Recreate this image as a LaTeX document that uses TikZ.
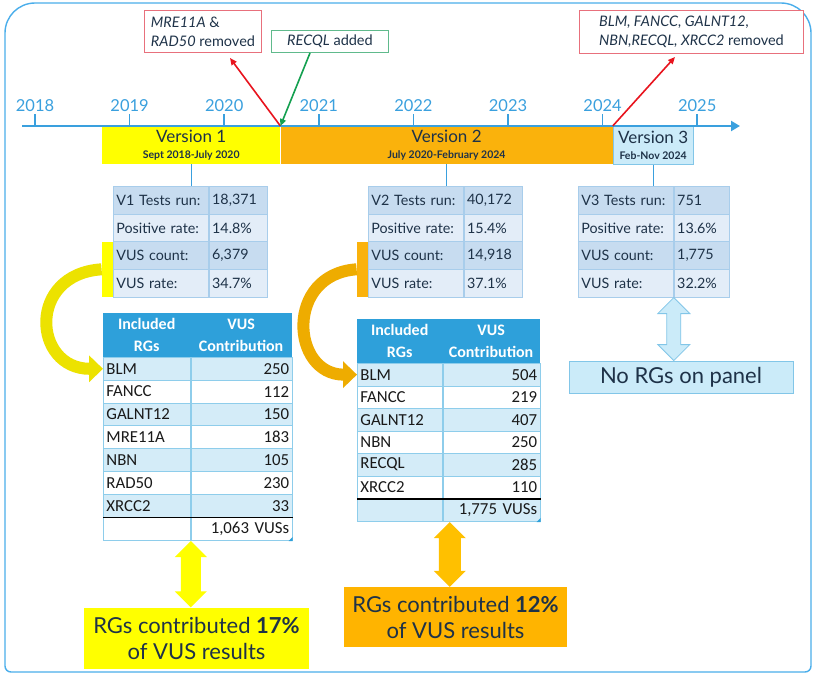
\documentclass[tikz,border=0pt]{standalone}
\usepackage{fontspec}
\setmainfont{Lato}
\newfontfamily\calibri{Carlito}
\usetikzlibrary{arrows.meta,positioning,calc}
\definecolor{tlblue}{RGB}{58,160,222}
\definecolor{inkdark}{RGB}{30,50,72}
\definecolor{v1yellow}{RGB}{255,255,0}
\definecolor{v2orange}{RGB}{250,178,12}
\definecolor{v3blue}{RGB}{203,235,249}
\definecolor{v3line}{RGB}{130,198,232}
\definecolor{remred}{RGB}{232,112,124}
\definecolor{arrred}{RGB}{232,20,30}
\definecolor{addgreen}{RGB}{96,186,140}
\definecolor{arrgreen}{RGB}{20,160,80}
\definecolor{statdark}{RGB}{199,220,240}
\definecolor{statlight}{RGB}{227,237,248}
\definecolor{statline}{RGB}{168,205,235}
\definecolor{headblue}{RGB}{46,160,218}
\definecolor{rgblue}{RGB}{212,236,248}
\definecolor{rgline}{RGB}{142,205,235}
\definecolor{framebl}{RGB}{74,174,235}
\definecolor{curvey}{RGB}{236,226,0}
\definecolor{curveo}{RGB}{238,172,0}
\definecolor{resorange}{RGB}{255,180,0}
\definecolor{dblorange}{RGB}{255,192,0}
% block double arrow between two points on one vertical
\newcommand{\dblarrow}[4]{%
  \path[#1] let \p1=(#2), \p2=(#3) in
    (\x1,\y1) -- (\x1+16pt,\y1-16pt) -- (\x1+#4,\y1-16pt) -- (\x1+#4,\y2+16pt)
    -- (\x1+16pt,\y2+16pt) -- (\x1,\y2) -- (\x1-16pt,\y2+16pt) -- (\x1-#4,\y2+16pt)
    -- (\x1-#4,\y1-16pt) -- (\x1-16pt,\y1-16pt) -- cycle;}

\begin{document}
\begin{tikzpicture}[x=1pt, y=-1pt,
  year/.style={font=\fontsize{16.5}{18}\selectfont, text=tlblue},
  tick/.style={draw=tlblue, line width=1.6pt},
  timeline/.style={-{Triangle[width=10pt,length=9pt]}, line width=2.8pt, draw=tlblue},
  verbar/.style={anchor=north west, minimum height=38pt, inner sep=0pt, align=center,
                 text=inkdark, font=\fontsize{17}{17}\selectfont},
  annot/.style={anchor=north west, draw=#1, line width=1pt, fill=white, align=left,
                inner xsep=4pt, inner ysep=3pt, text=inkdark, font=\fontsize{14.5}{19}\selectfont},
  link/.style={-{Triangle[width=6pt,length=7pt]}, line width=1.6pt, draw=#1},
  conn/.style={draw=tlblue, line width=1pt},
  statl/.style={anchor=north west, draw=statline, line width=0.8pt, text width=89pt,
                inner xsep=3pt, inner ysep=0pt, minimum height=27.7pt, align=left,
                text=inkdark, font=\fontsize{14.3}{15}\selectfont},
  statr/.style={statl, text width=#1},
  sidebar/.style={anchor=north east, fill=#1, minimum width=11pt, minimum height=55.4pt, inner sep=0pt},
  rghd/.style={anchor=north west, draw=headblue, fill=headblue, text=white, align=center,
               minimum height=44pt, inner sep=0pt, text width=#1,
               font=\calibri\bfseries\fontsize{16}{22}\selectfont},
  rgl/.style={anchor=north west, draw=rgline, line width=0.8pt, text width=#1, inner xsep=3pt,
              inner ysep=0pt, align=left, text=black!90, font=\calibri\fontsize{16.8}{18}\selectfont},
  rgr/.style={rgl=#1, align=right},
  curvy/.style={-{Triangle[width=26pt,length=14pt]}, line width=12pt, draw=#1},
  res/.style={fill=#1, minimum width=225pt, minimum height=61pt, align=center, inner sep=0pt,
              text=inkdark, font=\fontsize{22}{26}\selectfont}]
\useasboundingbox (0,0) rectangle (814,675);
\fill[white] (0,0) rectangle (814,675);
% frame
\draw[framebl, line width=1.4pt] (811,400) [rounded corners=6pt] -- (811,672) -- (5,672)
  [rounded corners=30pt] -- (5,3) -- (811,3) -- cycle;
% version bars
\node[verbar, fill=v1yellow, minimum width=178pt] (v1) at (102,126)
  {Version 1\\[-1pt]{\fontsize{10.5}{11}\selectfont\bfseries Sept 2018-July 2020}};
\node[verbar, fill=v2orange, minimum width=332pt, right=0pt of v1] (v2)
  {Version 2\\[-1pt]{\fontsize{10.5}{11}\selectfont\bfseries July 2020-February 2024}};
\node[verbar, fill=v3blue, draw=v3line, line width=0.6pt, minimum width=80pt, right=0pt of v2] (v3)
  {Version 3\\[-1pt]{\fontsize{10.5}{11}\selectfont\bfseries Feb-Nov 2024}};
% timeline
\coordinate (tl-start) at (22,126);
\coordinate (tl-end) at (740,126);
\draw[timeline] (tl-start) -- (tl-end);
\foreach \yr [count=\i from 0] in {2018,...,2025}{
  \draw[tick] ({35+94.6*\i},126) -- ++(0,-12);
  \node[year] (y\yr) at ({35+94.6*\i},106) {\yr};
}
% panel changes
\node[annot=remred, minimum width=117pt, minimum height=42pt] (ann1) at (144,10)
  {\textit{MRE11A} \&\\\textit{RAD50} removed};
\node[annot=addgreen, minimum width=117pt, minimum height=22pt] (ann2) at (271,30)
  {\textit{RECQL} added};
\node[annot=remred, minimum width=224pt, minimum height=43pt] (ann3) at (579,10)
  {\textit{BLM, FANCC, GALNT12,}\\\textit{NBN,RECQL, XRCC2} removed};
\draw[link=arrred] (v1.north east) -- ($(ann1.south east)+(-32pt,-5pt)$);
\draw[link=arrgreen] ([xshift=-20pt]ann2.south) -- (v2.north west);
\draw[link=arrred] (v3.north west) -- ($(ann3.south west)+(96pt,-3pt)$);
% stats tables
\foreach \lab/\val/\col [count=\i] in {V1 Tests run:/{18,371}/statdark, Positive rate:/14.8\%/statlight,
    VUS count:/{6,379}/statdark, VUS rate:/34.7\%/statlight}{
  \node[statl, fill=\col] (s1l-\i) at (113,{158.3+27.7*\i}) {\lab};
  \node[statr=52pt, fill=\col, right=0pt of s1l-\i] (s1r-\i) {\val};
}
\foreach \lab/\val/\col [count=\i] in {V2 Tests run:/{40,172}/statdark, Positive rate:/15.4\%/statlight,
    VUS count:/{14,918}/statdark, VUS rate:/37.1\%/statlight}{
  \node[statl, fill=\col] (s2l-\i) at (368,{158.3+27.7*\i}) {\lab};
  \node[statr=52pt, fill=\col, right=0pt of s2l-\i] (s2r-\i) {\val};
}
\foreach \lab/\val/\col [count=\i] in {V3 Tests run:/751/statdark, Positive rate:/13.6\%/statlight,
    VUS count:/{1,775}/statdark, VUS rate:/32.2\%/statlight}{
  \node[statl, fill=\col] (s3l-\i) at (578,{158.3+27.7*\i}) {\lab};
  \node[statr=49pt, fill=\col, right=0pt of s3l-\i] (s3r-\i) {\val};
}
\draw[conn] (v1.south) -- (v1.south |- s1l-1.north);
\draw[conn] (v2.south) -- (v2.south |- s2l-1.north);
\draw[conn] (v3.south) -- (v3.south |- s3l-1.north);
\node[sidebar=v1yellow] (ybar) at (s1l-3.north west) {};
\node[sidebar=v2orange] (obar) at (s2l-3.north west) {};
% RG table, version 1
\node[rghd=87pt] (h1l) at (103,313) {Included\\RGs};
\node[rghd=101pt, right=0pt of h1l] (h1r) {VUS\\Contribution};
\foreach \g/\n/\col [count=\i] in {BLM/250/rgblue, FANCC/112/white, GALNT12/150/rgblue,
    MRE11A/183/white, NBN/105/rgblue, RAD50/230/white, XRCC2/33/rgblue}{
  \node[rgl=81pt, fill=\col, minimum height=22.8pt] (r1l-\i) at (103,{334.2+22.8*\i}) {\g};
  \node[rgr=95pt, fill=\col, minimum height=22.8pt, right=0pt of r1l-\i] (r1r-\i) {\n};
}
\node[rgl=81pt, fill=white, minimum height=22.8pt, below=0pt of r1l-7] (t1l) {};
\node[rgr=95pt, fill=white, minimum height=22.8pt, right=0pt of t1l] (t1r) {1,063 VUSs\hspace{9pt}};
\draw[black, line width=1.5pt] (r1l-7.south west) -- (r1r-7.south east);
\fill[headblue] (t1r.south east) -- ++(-4pt,0) -- ++(4pt,4pt) -- cycle;
% RG table, version 2
\node[rghd=85pt] (h2l) at (357,319) {Included\\RGs};
\node[rghd=97pt, right=0pt of h2l] (h2r) {VUS\\Contribution};
\foreach \g/\n/\col [count=\i] in {BLM/504/rgblue, FANCC/219/white, GALNT12/407/rgblue,
    NBN/250/white, RECQL/285/rgblue, XRCC2/110/white}{
  \node[rgl=79pt, fill=\col, minimum height=22.5pt] (r2l-\i) at (357,{340.5+22.5*\i}) {\g};
  \node[rgr=91pt, fill=\col, minimum height=22.5pt, right=0pt of r2l-\i] (r2r-\i) {\n};
}
\node[rgl=79pt, fill=rgblue, minimum height=22.5pt, below=0pt of r2l-6] (t2l) {};
\node[rgr=91pt, fill=rgblue, minimum height=22.5pt, right=0pt of t2l] (t2r) {1,775 VUSs\hspace{9pt}};
\draw[black, line width=1.5pt] (r2l-6.south west) -- (r2r-6.south east);
\fill[headblue] (t2r.south east) -- ++(-4pt,0) -- ++(4pt,4pt) -- cycle;
% curved arrows from the VUS rows
\draw[curvy=curvey] (ybar.west) .. controls +(-75,5) and +(-70,0) .. (r1l-1.west);
\draw[curvy=curveo] (obar.west) .. controls +(-72,5) and +(-66,0) .. (r2l-1.west);
% results
\node[res=v1yellow] (res1) at (196.5,638) {RGs contributed \textbf{17\%}\\of VUS results};
\node[res=resorange, minimum width=223pt, minimum height=60pt] (res2) at (455.5,617)
  {RGs contributed \textbf{12\%}\\of VUS results};
\node[fill=v3blue, draw=v3line, line width=0.8pt, minimum width=224pt, minimum height=32pt,
      text=inkdark, font=\fontsize{22}{22}\selectfont] (norg) at (681,377) {No RGs on panel};
\dblarrow{fill=v1yellow}{t1l.south east}{t1l.south east |- res1.north}{10pt}
\dblarrow{fill=dblorange}{[xshift=7pt]t2l.south east}{[xshift=7pt]t2l.south east |- res2.north}{11pt}
\dblarrow{fill=v3blue, draw=v3line, line width=0.8pt}{s3l-4.south east}{s3l-4.south east |- norg.north}{7pt}
\end{tikzpicture}
\end{document}
